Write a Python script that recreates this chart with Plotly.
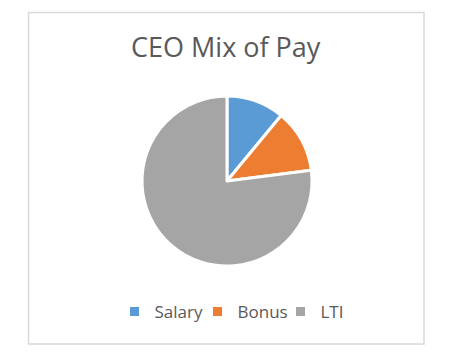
import plotly.graph_objects as go

W, H = 434, 343
OX, OY = 8, 8  # page body margin offset
categories = ["Salary", "Bonus", "LTI"]
values = [11, 12, 77]
colors = ["#5b9bd5", "#ed7d31", "#a5a5a5"]

def px(x):
    return (x - OX) / W

def py(y):
    return 1 - (y - OY) / H

fig = go.Figure(go.Pie(
    labels=categories, values=values, sort=False, direction="clockwise", rotation=0,
    marker=dict(colors=colors, line=dict(color="white", width=3)),
    textinfo="none", hoverinfo="label+percent",
    domain=dict(x=[px(142), px(312)], y=[py(266), py(96)]),
))

fig.update_layout(
    width=W, height=H, margin=dict(l=0, r=0, t=0, b=0),
    paper_bgcolor="white", plot_bgcolor="white",
    font=dict(family="Open Sans, sans-serif", color="#595959"),
    shapes=[dict(type="rect", xref="paper", yref="paper",
                 x0=px(28.5), x1=px(424), y0=py(344), y1=py(12.5),
                 line=dict(color="#d9d9d9", width=1.5), fillcolor="rgba(0,0,0,0)")],
    annotations=[dict(text="CEO Mix of Pay", x=px(226), y=py(47), xref="paper", yref="paper",
                      showarrow=False, xanchor="center", yanchor="middle",
                      font=dict(size=27, color="#595959"))],
    legend=dict(orientation="h", x=px(239), xanchor="center", y=py(312), yanchor="middle",
                font=dict(size=17, color="#595959"), itemwidth=30, tracegroupgap=0,
                entrywidth=38, entrywidthmode="pixels"),
)

fig.write_html("out.html")
